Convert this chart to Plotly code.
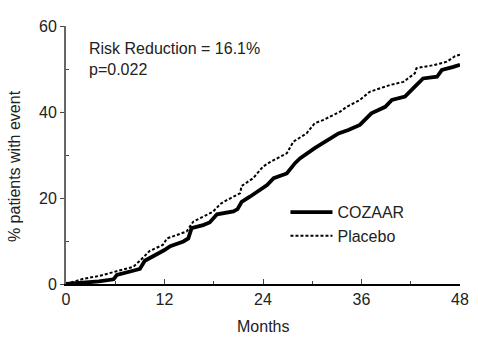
import plotly.graph_objects as go

# Cumulative event curves (% of patients) by month of follow-up
cozaar_months = [0, 2, 4, 5.8, 6.2, 8.4, 9.0, 9.6, 10.8, 12.0, 12.7, 14.3, 14.9, 15.3,
                 16.7, 17.5, 18.4, 20.4, 20.9, 21.4, 22.4, 24.5, 25.3, 26.9, 27.9, 28.5,
                 30.3, 31.3, 33.2, 34.4, 35.8, 37.2, 38.9, 39.7, 41.3, 42.5, 43.5, 45.2,
                 45.8, 47.2, 48.0]
cozaar_pct = [0, 0.3, 0.6, 1.1, 2.1, 3.2, 3.5, 5.4, 6.6, 7.9, 8.8, 9.9, 10.6, 13.0,
              13.7, 14.3, 16.2, 16.9, 17.4, 19.1, 20.3, 23.0, 24.6, 25.7, 28.1, 29.2,
              31.6, 32.7, 35.0, 35.8, 37.0, 39.7, 41.2, 42.8, 43.6, 45.9, 47.8, 48.2,
              49.8, 50.5, 51.0]

placebo_months = [0, 2.1, 4.1, 6.0, 8.2, 9.0, 10.2, 11.8, 12.3, 14.7, 15.5, 17.9, 18.8,
                  19.2, 21.2, 21.4, 22.8, 24.0, 24.9, 26.9, 27.7, 29.3, 30.3, 31.3, 33.4,
                  34.2, 35.8, 37.0, 39.5, 41.1, 42.5, 42.7, 44.8, 46.4, 47.4, 48.0]
placebo_pct = [0, 1.2, 1.9, 2.9, 4.0, 5.4, 7.7, 9.1, 10.6, 12.2, 14.5, 16.8, 18.6,
               19.1, 21.1, 22.8, 24.6, 27.3, 28.4, 30.4, 33.1, 35.0, 37.4, 38.1, 40.1,
               41.2, 42.8, 44.7, 46.3, 47.0, 49.0, 50.2, 50.9, 51.7, 53.0, 53.3]

x_ticks = [0, 12, 24, 36, 48]
y_ticks = [0, 20, 40, 60]
stats_lines = ["Risk Reduction = 16.1%", "p=0.022"]
x_title = "Months"
y_title = "% patients with event"

FONT = "Liberation Sans, Arial, sans-serif"
INK = "#222"

fig = go.Figure()
fig.add_trace(go.Scatter(
    x=cozaar_months, y=cozaar_pct, mode="lines", name="COZAAR",
    line=dict(color="black", width=3.8), cliponaxis=False,
))
fig.add_trace(go.Scatter(
    x=placebo_months, y=placebo_pct, mode="lines", name="Placebo",
    line=dict(color="black", width=2, dash="3px,2px"), cliponaxis=False,
))

# Statistics note in the upper-left corner
fig.add_annotation(
    x=0.053, y=0.955, xref="paper", yref="paper", xanchor="left", yanchor="top",
    text="<br>".join(stats_lines), align="left", showarrow=False,
    font=dict(family=FONT, size=16, color=INK),
)

# Axis titles as annotations so the plot area keeps fixed margins
fig.add_annotation(
    x=0.5, y=-0.163, xref="paper", yref="paper", xanchor="center", yanchor="middle",
    text=x_title, showarrow=False, font=dict(family=FONT, size=16, color=INK),
)
fig.add_annotation(
    x=-0.132, y=0.457, xref="paper", yref="paper", xanchor="center", yanchor="middle",
    text=y_title, textangle=-90, showarrow=False,
    font=dict(family=FONT, size=16, color=INK),
)

fig.update_layout(
    width=478, height=338,
    margin=dict(l=66, r=18, t=26, b=54, autoexpand=False),
    paper_bgcolor="white", plot_bgcolor="white",
    font=dict(family=FONT, size=16, color=INK),
    showlegend=True,
    legend=dict(
        x=0.557, y=0.232, xanchor="left", yanchor="middle",
        bgcolor="rgba(0,0,0,0)", font=dict(family=FONT, size=16, color=INK),
        itemwidth=42, tracegroupgap=0,
    ),
    xaxis=dict(
        range=[0, 48], tickvals=x_ticks, ticktext=[str(v) for v in x_ticks],
        showgrid=False, zeroline=False, showline=True, linecolor="black", linewidth=1.5,
        ticks="inside", ticklen=5, tickcolor="#444", tickwidth=1,
        minor=dict(tickvals=[6, 18, 30, 42], ticks="inside", ticklen=3, tickcolor="#444"),
        tickfont=dict(size=16), automargin=False,
    ),
    yaxis=dict(
        range=[0, 60], tickvals=y_ticks, ticktext=[str(v) for v in y_ticks],
        showgrid=False, zeroline=False, showline=True, linecolor="#666", linewidth=2,
        ticks="outside", ticklen=4, tickcolor="#444", tickwidth=1,
        minor=dict(tickvals=[10, 30, 50], ticks="inside", ticklen=3, tickcolor="#444"),
        tickfont=dict(size=16), automargin=False,
    ),
)

fig.write_html("out.html")
